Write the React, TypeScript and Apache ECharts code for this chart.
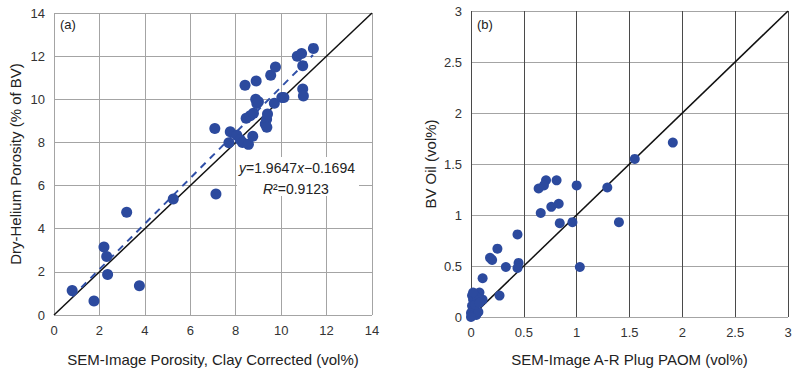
import React, { useEffect, useRef } from "react";
import * as echarts from "echarts";

// Panel (a): SEM-image porosity (clay corrected) vs dry-helium porosity
const poroPoints: [number, number][] = [
  [0.8, 1.13], [1.76, 0.65], [2.2, 3.15], [2.32, 2.71], [2.36, 1.88], [3.2, 4.76], [3.76, 1.36],
  [5.25, 5.38], [7.13, 5.61],
  [7.08, 8.65], [7.7, 7.98], [7.76, 8.5], [8.05, 8.33], [8.2, 8.12], [8.3, 8.0], [8.56, 7.91], [8.75, 8.29],
  [8.41, 10.65], [8.9, 10.85], [8.46, 9.12], [8.64, 9.24], [8.78, 9.35], [8.88, 10.0], [8.93, 9.8], [9.0, 9.88],
  [9.3, 8.86], [9.36, 9.07], [9.4, 9.32], [9.37, 8.7], [9.54, 11.12], [9.75, 11.5], [9.7, 9.82],
  [10.03, 10.08], [10.12, 10.08], [10.71, 12.0], [10.9, 12.12], [10.95, 11.55], [10.95, 10.48],
  [10.98, 10.15], [11.42, 12.36],
];
const poroFit: [number, number][] = [[0.8, 0.85], [11.4, 12.05]];
const poroIdentity: [number, number][] = [[0, 0], [14, 14]];
const poroTicks = [0, 2, 4, 6, 8, 10, 12, 14];

// Panel (b): SEM-image A-R plug PAOM vs BV oil
const oilPoints: [number, number][] = [
  [1.91, 1.71], [1.55, 1.55], [1.29, 1.27], [1.0, 1.29], [0.81, 1.34], [0.71, 1.34], [0.69, 1.29], [0.64, 1.26],
  [0.66, 1.02], [0.76, 1.08], [0.83, 1.11], [0.84, 0.92], [0.96, 0.93], [1.4, 0.93], [1.03, 0.49],
  [0.44, 0.81], [0.25, 0.67], [0.18, 0.58], [0.2, 0.56], [0.33, 0.49], [0.45, 0.53], [0.44, 0.48],
  [0.11, 0.38], [0.27, 0.21],
  [0.08, 0.24], [0.11, 0.17], [0.01, 0.21], [0.02, 0.17], [0.06, 0.19], [0.02, 0.24], [0.01, 0.11],
  [0.03, 0.07], [0.0, 0.04], [0.02, 0.02], [0.05, 0.02], [0.07, 0.05], [0.04, 0.12], [0.08, 0.14], [0.0, 0.0],
];
const oilIdentity: [number, number][] = [[0, 0], [3, 3]];
const oilTicks = [0, 0.5, 1, 1.5, 2, 2.5, 3];

const equationText = "{i|y}=1.9647{i|x}\u22120.1694";
const r2Text = "{i|R}\u00B2=0.9123";

const FONT = "'Liberation Sans', Arial, Helvetica, sans-serif";
const DOT = "#2c4a9e";
const GRID_LIGHT = "#a4a4a4";
const GRID_DARK = "#4a4a4a";

export default function App() {
  const ref = useRef<HTMLDivElement>(null);
  useEffect(() => {
    if (!ref.current) return;
    const chart = echarts.init(ref.current, undefined, { renderer: "svg" });
    const axisLabel = { color: "#333", fontSize: 13, fontFamily: FONT, margin: 9 };
    const nameStyle = { color: "#222", fontSize: 15, fontFamily: FONT };
    chart.setOption({
      animation: false,
      textStyle: { fontFamily: FONT },
      grid: [
        { left: 54, top: 13, width: 318, height: 302 },
        { left: 471, top: 11, width: 317, height: 306 },
      ],
      xAxis: [
        {
          gridIndex: 0, type: "value", min: poroTicks[0], max: poroTicks[poroTicks.length - 1], interval: 2,
          axisLine: { show: false }, axisTick: { show: false }, axisLabel,
          splitLine: { show: true, lineStyle: { color: GRID_LIGHT, width: 1 } },
          name: "SEM-Image Porosity, Clay Corrected (vol%)", nameLocation: "middle", nameGap: 37, nameTextStyle: nameStyle,
        },
        {
          gridIndex: 1, type: "value", min: oilTicks[0], max: oilTicks[oilTicks.length - 1], interval: 0.5,
          axisLine: { show: false }, axisTick: { show: false }, axisLabel,
          splitLine: { show: true, lineStyle: { color: GRID_DARK, width: 1 } },
          name: "SEM-Image A-R Plug PAOM (vol%)", nameLocation: "middle", nameGap: 35, nameTextStyle: nameStyle,
        },
      ],
      yAxis: [
        {
          gridIndex: 0, type: "value", min: poroTicks[0], max: poroTicks[poroTicks.length - 1], interval: 2,
          axisLine: { show: false }, axisTick: { show: false }, axisLabel,
          splitLine: { show: true, lineStyle: { color: GRID_LIGHT, width: 1 } },
          name: "Dry-Helium Porosity (% of BV)", nameLocation: "middle", nameGap: 31, nameTextStyle: nameStyle,
        },
        {
          gridIndex: 1, type: "value", min: oilTicks[0], max: oilTicks[oilTicks.length - 1], interval: 0.5,
          axisLine: { show: false }, axisTick: { show: false }, axisLabel,
          splitLine: { show: true, lineStyle: { color: GRID_LIGHT, width: 1 } },
          name: "BV Oil (vol%)", nameLocation: "middle", nameGap: 33, nameTextStyle: nameStyle,
        },
      ],
      series: [
        {
          type: "line", xAxisIndex: 0, yAxisIndex: 0, data: poroIdentity, symbol: "none",
          lineStyle: { color: "#111", width: 1.5 }, z: 3,
        },
        {
          type: "line", xAxisIndex: 0, yAxisIndex: 0, data: poroFit, symbol: "none",
          lineStyle: { color: "#3050a8", width: 2, type: [7, 6] }, z: 3,
        },
        {
          type: "scatter", xAxisIndex: 0, yAxisIndex: 0, data: poroPoints, symbolSize: 11,
          itemStyle: { color: DOT, opacity: 1 }, z: 4,
        },
        {
          type: "line", xAxisIndex: 1, yAxisIndex: 1, data: oilIdentity, symbol: "none",
          lineStyle: { color: "#111", width: 1.5 }, z: 3,
        },
        {
          type: "scatter", xAxisIndex: 1, yAxisIndex: 1, data: oilPoints, symbolSize: 10,
          itemStyle: { color: DOT, opacity: 1 }, z: 4,
        },
      ],
      graphic: [
        { type: "rect", left: 237, top: 157, shape: { width: 122, height: 39 }, style: { fill: "#fff" }, z: 1 },
        {
          type: "text", left: 239, top: 161, z: 2,
          style: {
            text: equationText, fontSize: 14, fontFamily: FONT, fill: "#222",
            rich: { i: { fontStyle: "italic", fontSize: 14, fontFamily: FONT, fill: "#222" } },
          },
        },
        {
          type: "text", left: 263, top: 182, z: 2,
          style: {
            text: r2Text, fontSize: 14, fontFamily: FONT, fill: "#222",
            rich: { i: { fontStyle: "italic", fontSize: 14, fontFamily: FONT, fill: "#222" } },
          },
        },
        { type: "text", left: 60, top: 18, style: { text: "(a)", fontSize: 13, fontFamily: FONT, fill: "#222" } },
        { type: "text", left: 477, top: 18, style: { text: "(b)", fontSize: 13, fontFamily: FONT, fill: "#222" } },
      ],
    });
    return () => chart.dispose();
  }, []);
  return <div ref={ref} style={{ width: 800, height: 377, position: "absolute", left: 0, top: 0 }} />;
}
